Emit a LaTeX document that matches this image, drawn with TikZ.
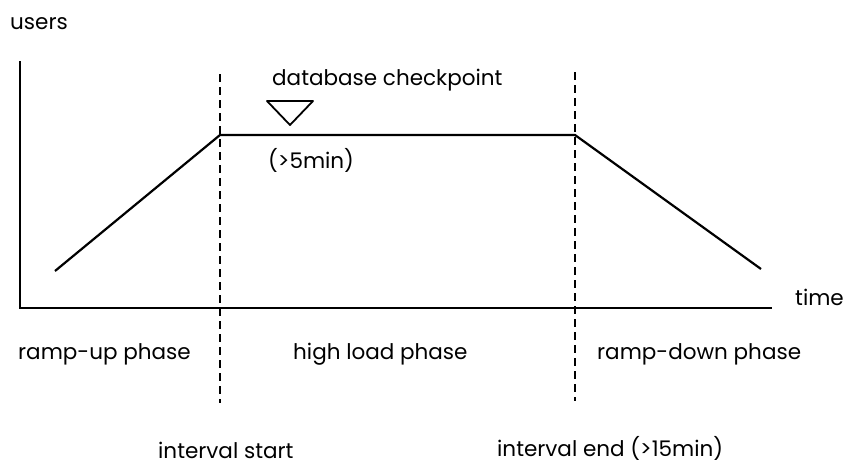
\documentclass[tikz,border=0pt]{standalone}
\usepackage{fontspec}
\setmainfont{Poppins}
\usepackage{tikz}
\usetikzlibrary{calc}

\begin{document}
\begin{tikzpicture}[x=1pt, y=-1pt,
  lbl/.style={inner sep=0pt, anchor=base west, font=\fontsize{21.5}{24}\selectfont},
  axis/.style={line width=2.2pt},
  curve/.style={line width=2.2pt},
  phase/.style={line width=2.2pt, dash pattern=on 8pt off 5pt}]
  \useasboundingbox (0,0) rectangle (843,464);

  \coordinate (O) at (20,308);
  \coordinate (Ytop) at (20,61);
  \coordinate (Xend) at (772,308);

  \coordinate (S1) at (220,74);
  \coordinate (E1) at (220,403);
  \coordinate (S2) at (575,72);
  \coordinate (E2) at (575,401);

  \coordinate (P0) at (55,271);
  \coordinate (P1) at (220,135);
  \coordinate (P2) at (575,135);
  \coordinate (P3) at (761,269);

  \draw[axis] (Ytop) -- (O) -- (Xend);
  \draw[phase] (S1) -- (E1);
  \draw[phase] (S2) -- (E2);
  \draw[curve] (P0) -- (P1) -- (P2) -- (P3);

  % checkpoint marker
  \coordinate (TL) at (267,101);
  \coordinate (TR) at (313,101);
  \coordinate (TB) at (290,125);
  \draw[line width=1.8pt, line join=round] (TL) -- (TR) -- (TB) -- cycle;

  \node[lbl] (users) at (10,29) {users};
  \node[lbl] (time) at (795,305) {time};
  \node[lbl] (ckpt) at (272,85) {database checkpoint};
  \node[lbl] (five) at (268,168) {(>5min)};
  \node[lbl] (up) at (18,359) {ramp-up phase};
  \node[lbl] (high) at (293,359) {high load phase};
  \node[lbl] (down) at (597,359) {ramp-down phase};
  \node[lbl] (istart) at (158,458) {interval start};
  \node[lbl] (iend) at (497,456) {interval end (>15min)};
\end{tikzpicture}
\end{document}
